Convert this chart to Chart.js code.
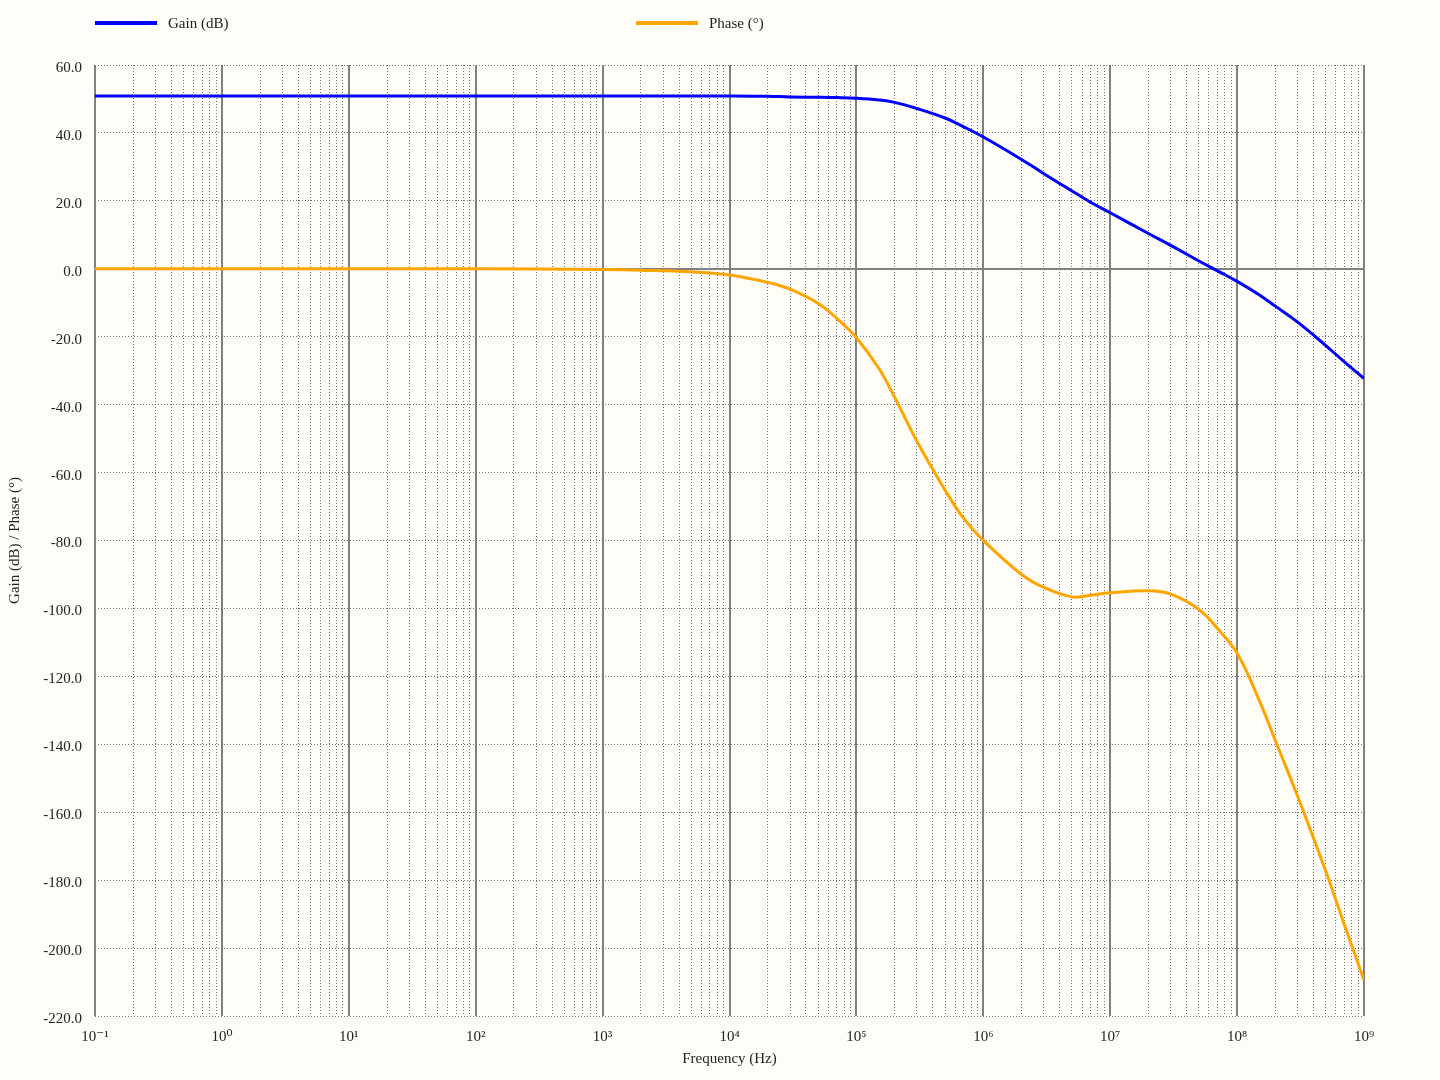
<!DOCTYPE html>
<html>
<head>
<meta charset="utf-8">
<title>Bode plot</title>
<script src="https://cdn.jsdelivr.net/npm/chart.js@4.4.1/dist/chart.umd.min.js"></script>
<style>
  html, body {
    margin: 0;
    padding: 0;
    background: #fffdf7;
  }
  #wrap {
    width: 1440px;
    height: 1080px;
    position: relative;
  }
</style>
</head>
<body>
<div id="wrap"><canvas id="bode"></canvas></div>
<script>
// frequency points (Hz), shared by both curves
const freq = [
  0.1, 1, 10, 100, 1e3, 2e3, 5e3, 1e4, 2e4, 3e4, 5e4, 7e4,
  1e5, 1.5e5, 2e5, 3e5, 5e5, 7e5, 1e6, 2e6, 3e6, 5e6, 7e6,
  1e7, 2e7, 3e7, 5e7, 7e7, 1e8, 1.5e8, 2e8, 3e8, 5e8, 7e8, 1e9
];

// gain in dB
const gain = [
  50.9, 50.9, 50.9, 50.9, 50.9, 50.9, 50.9, 50.9, 50.8, 50.6, 50.5, 50.4,
  50.2, 49.7, 49.0, 47.2, 44.4, 41.8, 38.8, 32.2, 28.0, 22.9, 19.6,
  16.5, 10.4, 6.9, 2.3, -0.6, -3.7, -7.7, -11.0, -15.7, -22.6, -27.4, -32.3
];

// phase in degrees
const phase = [
  0, 0, 0, 0, -0.2, -0.4, -0.9, -1.8, -4.0, -6.0, -10.2, -14.6,
  -20.3, -29.3, -37.8, -50.8, -65.2, -73.5, -80.0, -90.0, -93.8, -96.6, -96.1,
  -95.4, -94.8, -95.8, -100.3, -105.9, -113.2, -127.2, -138.9, -155.3, -177.4, -193.1, -209.4
];

// x axis: decade exponents that get a label, and the minor multipliers between them
const xDecades = [-1, 0, 1, 2, 3, 4, 5, 6, 7, 8, 9];
const xMinor = [1, 2, 3, 4, 5, 6, 7, 8, 9];

// y axis range and step
const yMin = -220;
const yMax = 60;
const yStep = 20;

const FONT = '"Liberation Serif", "DejaVu Serif", serif';
const GRID = "#808080";
const GRID_DOT = "#707070";
const TEXT = "#222222";

const supDigits = {
  "-": "\u207B", "0": "\u2070", "1": "\u00B9", "2": "\u00B2", "3": "\u00B3",
  "4": "\u2074", "5": "\u2075", "6": "\u2076", "7": "\u2077", "8": "\u2078", "9": "\u2079"
};
const sup = (n) => String(n).split("").map((c) => supDigits[c]).join("");

const isDecade = (v) => {
  const l = Math.log10(v);
  return Math.abs(l - Math.round(l)) < 1e-9;
};

const toPoints = (ys) => freq.map((f, i) => ({ x: f, y: ys[i] }));

const background = {
  id: "background",
  beforeDraw(chart) {
    const { ctx, width, height } = chart;
    ctx.save();
    ctx.fillStyle = "#fffdf7";
    ctx.fillRect(0, 0, width, height);
    ctx.restore();
  },
};

// legend sits in two spread-out slots along the top, so draw it here
const legendX = [95, 636];
const topLegend = {
  id: "topLegend",
  afterDraw(chart) {
    const ctx = chart.ctx;
    chart.data.datasets.forEach((ds, i) => {
      const x = legendX[i];
      ctx.save();
      ctx.strokeStyle = ds.borderColor;
      ctx.lineWidth = 4;
      ctx.beginPath();
      ctx.moveTo(x, 23);
      ctx.lineTo(x + 62, 23);
      ctx.stroke();
      ctx.fillStyle = TEXT;
      ctx.font = "15px " + FONT;
      ctx.textBaseline = "middle";
      ctx.fillText(ds.label, x + 73, 24);
      ctx.restore();
    });
  },
};

new Chart(document.getElementById("bode"), {
  type: "line",
  data: {
    datasets: [
      {
        label: "Gain (dB)",
        data: toPoints(gain),
        borderColor: "#0000ff",
        borderWidth: 3,
        pointRadius: 0,
        tension: 0.4,
      },
      {
        label: "Phase (\u00B0)",
        data: toPoints(phase),
        borderColor: "#ffa500",
        borderWidth: 3,
        pointRadius: 0,
        tension: 0.4,
      },
    ],
  },
  options: {
    responsive: true,
    maintainAspectRatio: false,
    animation: false,
    layout: {
      padding: { top: 65, right: 76, left: 0, bottom: 0 },
    },
    plugins: {
      legend: { display: false },
      tooltip: { enabled: false },
    },
    scales: {
      x: {
        type: "logarithmic",
        min: 0.1,
        max: 1e9,
        afterBuildTicks: (scale) => {
          const ticks = [];
          xDecades.forEach((e) => {
            xMinor.forEach((m) => {
              const v = m * Math.pow(10, e);
              if (v <= 1e9 * 1.000001) ticks.push({ value: v, major: m === 1 });
            });
          });
          scale.ticks = ticks;
        },
        afterFit: (scale) => {
          scale.height = 64;
        },
        ticks: {
          autoSkip: false,
          maxRotation: 0,
          minRotation: 0,
          padding: 12,
          color: TEXT,
          font: { family: FONT, size: 15 },
          callback: (value) =>
            isDecade(value) ? "10" + sup(Math.round(Math.log10(value))) : "",
        },
        grid: {
          drawTicks: false,
          color: (ctx) => (ctx.tick && isDecade(ctx.tick.value) ? GRID : GRID_DOT),
          lineWidth: (ctx) => (ctx.tick && isDecade(ctx.tick.value) ? 2 : 1),
        },
        border: {
          display: false,
          dash: (ctx) => (ctx.tick && isDecade(ctx.tick.value) ? [] : [1, 2]),
        },
        title: {
          display: true,
          text: "Frequency (Hz)",
          color: TEXT,
          font: { family: FONT, size: 15 },
          padding: { top: 0, bottom: 12 },
        },
      },
      y: {
        min: yMin,
        max: yMax,
        afterFit: (scale) => {
          scale.width = 95;
        },
        ticks: {
          stepSize: yStep,
          padding: 13,
          labelOffset: 3,
          color: TEXT,
          font: { family: FONT, size: 15 },
          callback: (v) => v.toFixed(1),
        },
        grid: {
          drawTicks: false,
          color: (ctx) => (ctx.tick && ctx.tick.value === 0 ? GRID : GRID_DOT),
          lineWidth: (ctx) => (ctx.tick && ctx.tick.value === 0 ? 2 : 1),
        },
        border: {
          display: false,
          dash: (ctx) => (ctx.tick && ctx.tick.value === 0 ? [] : [1, 2]),
        },
        title: {
          display: true,
          text: "Gain (dB) / Phase (\u00B0)",
          color: TEXT,
          font: { family: FONT, size: 15 },
          padding: { top: 6, bottom: 0 },
        },
      },
    },
  },
  plugins: [background, topLegend],
});
</script>
</body>
</html>
